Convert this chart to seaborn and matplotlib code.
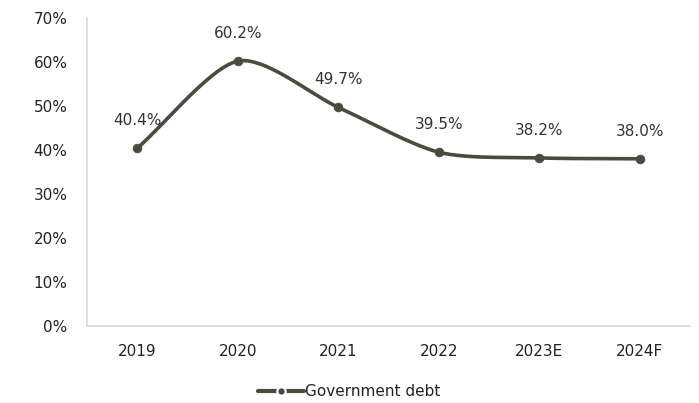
import numpy as np
import pandas as pd
import matplotlib
matplotlib.use("Agg")
import matplotlib.pyplot as plt
import seaborn as sns
from matplotlib.lines import Line2D

categories = ["2019", "2020", "2021", "2022", "2023E", "2024F"]
debt = [40.4, 60.2, 49.7, 39.5, 38.2, 38.0]
series_name = "Government debt"

sns.set_theme(style="white")
plt.rcParams['font.family'] = ['DejaVu Sans']

color = "#4b4a40"
df = pd.DataFrame({"year": categories, "debt": debt, "x": np.arange(len(categories))})

fig = plt.figure(figsize=(6.99, 4.03), dpi=100)
ax = fig.add_axes([87/699, 1 - 326/403, (690-87)/699, (326-18)/403])

# Catmull-Rom smoothing (like Excel smoothed line)
def catmull(xs, ys, n=30):
    xs = np.asarray(xs, float); ys = np.asarray(ys, float)
    px = np.concatenate([[2*xs[0]-xs[1]], xs, [2*xs[-1]-xs[-2]]])
    py = np.concatenate([[2*ys[0]-ys[1]], ys, [2*ys[-1]-ys[-2]]])
    outx, outy = [], []
    for i in range(1, len(px)-2):
        t = np.linspace(0, 1, n, endpoint=False)
        for p, out in ((px, outx), (py, outy)):
            p0, p1, p2, p3 = p[i-1], p[i], p[i+1], p[i+2]
            m1 = (p2 - p0) / 2 * 0.8
            m2 = (p3 - p1) / 2 * 0.8
            h00 = 2*t**3 - 3*t**2 + 1
            h10 = t**3 - 2*t**2 + t
            h01 = -2*t**3 + 3*t**2
            h11 = t**3 - t**2
            out.extend(h00*p1 + h10*m1 + h01*p2 + h11*m2)
    outx.append(xs[-1]); outy.append(ys[-1])
    return np.array(outx), np.array(outy)

sx, sy = catmull(df["x"], df["debt"])
ax.plot(sx, sy, color=color, lw=2.6, solid_capstyle="round", zorder=2)
sns.scatterplot(data=df, x="x", y="debt", ax=ax, color=color, s=40,
                edgecolor=color, zorder=3, legend=False)

for xi, v in zip(df["x"], df["debt"]):
    ax.annotate(f"{v:.1f}%", (xi, v), xytext=(0, 20), textcoords="offset points",
                ha="center", va="center", fontsize=11, color="#333333")

ax.set_xlim(-0.5, len(categories) - 0.5)
ax.set_ylim(0, 70)
ax.set_yticks(np.arange(0, 71, 10))
ax.set_yticklabels([f"{v}%" for v in range(0, 71, 10)])
ax.set_xticks(df["x"])
ax.set_xticklabels(categories)
ax.tick_params(axis="both", length=0, labelsize=11, labelcolor="#222222")
ax.tick_params(axis="x", pad=13)
ax.tick_params(axis="y", pad=14)
ax.set_xlabel("")
ax.set_ylabel("")
for s in ["top", "right"]:
    ax.spines[s].set_visible(False)
for s in ["left", "bottom"]:
    ax.spines[s].set_color("#d9d9d9")
    ax.spines[s].set_linewidth(1.2)

handle = Line2D([0], [0], color=color, lw=3, marker="o", markersize=6,
                markeredgecolor="white", markeredgewidth=1.5)
fig.legend([handle], [series_name], loc="center", bbox_to_anchor=(0.5, 1 - 392/403),
           frameon=False, fontsize=11, handlelength=3.0, handletextpad=0.1,
           labelcolor="#222222")

fig.savefig("out.png", dpi=100)
